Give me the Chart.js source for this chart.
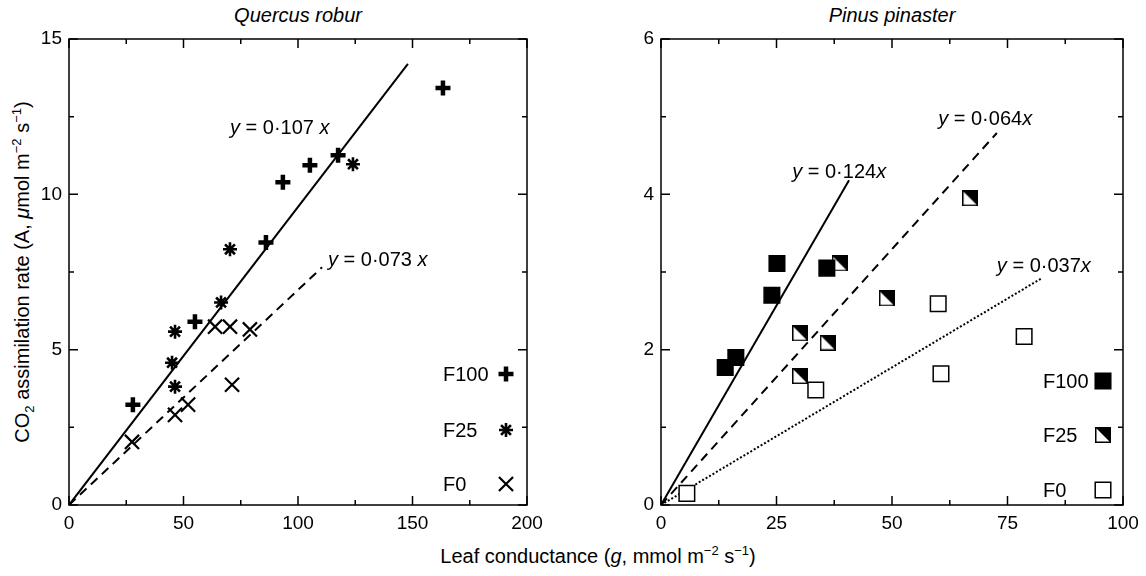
<!DOCTYPE html>
<html>
<head>
<meta charset="utf-8">
<script src="https://cdn.jsdelivr.net/npm/chart.js@4.4.0/dist/chart.umd.min.js"></script>
<style>
body{margin:0;background:#fff;width:1146px;height:576px;position:relative;overflow:hidden;
font-family:"Liberation Sans",Arial,sans-serif;color:#000}
canvas{position:absolute;top:0}
#cLeft{left:0}
#cRight{left:580px}
.title{position:absolute;top:4px;font-size:20px;font-style:italic;transform:translateX(-50%);white-space:nowrap}
.ytitle{position:absolute;left:22px;top:272px;font-size:20px;white-space:nowrap;transform:translate(-50%,-50%) rotate(-90deg)}
.xtitle{position:absolute;left:598px;top:545px;font-size:20px;white-space:nowrap;transform:translateX(-50%)}
sup,sub{font-size:13px;line-height:0}
</style>
</head>
<body>
<div class="title" style="left:298px">Quercus robur</div>
<div class="title" style="left:892px">Pinus pinaster</div>
<div class="ytitle">CO<sub>2</sub> assimilation rate (A, <i>μ</i>mol m<sup>−2</sup> s<sup>−1</sup>)</div>
<div class="xtitle">Leaf conductance (<i>g</i>, mmol m<sup>−2</sup> s<sup>−1</sup>)</div>
<canvas id="cLeft" width="560" height="576"></canvas>
<canvas id="cRight" width="566" height="576"></canvas>
<script>

/* ==========================================
   DATA - QUERCUS ROBUR
========================================== */

const oakXTicks = [0, 50, 100, 150, 200];
const oakYTicks = [0, 5, 10, 15];

const oakF100 = [
{x:27.9,y:3.23},{x:55.0,y:5.90},{x:86.0,y:8.45},{x:93.4,y:10.39},
{x:105.2,y:10.94},{x:117.5,y:11.26},{x:163.3,y:13.42}
];
const oakF25 = [
{x:45.0,y:4.58},{x:46.3,y:3.81},{x:46.3,y:5.58},{x:66.4,y:6.52},
{x:70.3,y:8.23},{x:124.0,y:10.97}
];
const oakF0 = [
{x:27.5,y:2.03},{x:46.3,y:2.90},{x:52.0,y:3.23},{x:71.2,y:3.87},
{x:63.8,y:5.74},{x:70.3,y:5.74},{x:79.0,y:5.65}
];

// fitted lines, end points as drawn
const oakFitHigh = [{x:0,y:0},{x:148,y:14.2}];
const oakFitLow = [{x:0,y:0},{x:110.5,y:7.65}];

const oakEquations = [
{x:70.3, y:11.94, text:" = 0·107 "},
{x:113.1, y:7.68, text:" = 0·073 "}
];

/* ==========================================
   DATA - PINUS PINASTER
========================================== */

const pineXTicks = [0, 25, 50, 75, 100];
const pineYTicks = [0, 2, 4, 6];

const pineF100 = [
{x:25.1,y:3.11},{x:24.0,y:2.70},{x:35.9,y:3.05},{x:16.2,y:1.90},{x:13.9,y:1.77}
];
const pineF25 = [
{x:38.7,y:3.11},{x:48.9,y:2.66},{x:30.1,y:2.21},{x:36.1,y:2.09},
{x:30.1,y:1.66},{x:66.9,y:3.95}
];
const pineF0 = [
{x:33.5,y:1.48},{x:5.6,y:0.15},{x:60.0,y:2.59},{x:60.6,y:1.69},{x:78.6,y:2.17}
];

const pineFitF100 = [{x:0,y:0},{x:40.7,y:4.18}];
const pineFitF25 = [{x:0,y:0},{x:72.7,y:4.79}];
const pineFitF0 = [{x:0,y:0},{x:82.4,y:2.92}];

const pineEquations = [
{x:28.4, y:4.21, text:" = 0·124"},
{x:60.0, y:4.89, text:" = 0·064"},
{x:72.7, y:3.00, text:" = 0·037"}
];

const legendNames = ["F100", "F25", "F0"];

const FONT = '"Liberation Sans", Arial, sans-serif';

/* ==========================================
   HALF FILLED SQUARE MARKER
========================================== */

function halfSquare(size){

const c = document.createElement("canvas");
c.width = size;
c.height = size;
const g = c.getContext("2d");

g.fillStyle = "#fff";
g.fillRect(0,0,size,size);

g.fillStyle = "#000";
g.beginPath();
g.moveTo(0,0);
g.lineTo(size,0);
g.lineTo(size,size);
g.closePath();
g.fill();

g.strokeStyle = "#000";
g.lineWidth = 1.5;
g.strokeRect(0.75,0.75,size-1.5,size-1.5);

return c;

}

const halfMarker = halfSquare(16);

/* ==========================================
   PLUGIN: FRAME, TICKS, EQUATIONS, LEGEND
========================================== */

function midpoints(arr){
const out = [];
for(let i=0;i<arr.length-1;i++) out.push((arr[i]+arr[i+1])/2);
return out;
}

const framePlugin = {

id:"frame",

afterDraw(chart, args, opts){

const ctx = chart.ctx;
const a = chart.chartArea;
const sx = chart.scales.x;
const sy = chart.scales.y;

ctx.save();
ctx.strokeStyle = "#000";
ctx.lineWidth = 1.5;
ctx.strokeRect(a.left, a.top, a.right-a.left, a.bottom-a.top);

function tick(v, len, axis){
ctx.beginPath();
if(axis==="x"){
const p = sx.getPixelForValue(v);
ctx.moveTo(p, a.bottom); ctx.lineTo(p, a.bottom-len);
ctx.moveTo(p, a.top); ctx.lineTo(p, a.top+len);
}else{
const p = sy.getPixelForValue(v);
ctx.moveTo(a.left, p); ctx.lineTo(a.left+len, p);
ctx.moveTo(a.right, p); ctx.lineTo(a.right-len, p);
}
ctx.stroke();
}

opts.xTicks.forEach(v=>tick(v,9,"x"));
midpoints(opts.xTicks).forEach(v=>tick(v,5,"x"));
opts.yTicks.forEach(v=>tick(v,9,"y"));
midpoints(opts.yTicks).forEach(v=>tick(v,5,"y"));

// equations
ctx.fillStyle = "#000";
ctx.textBaseline = "alphabetic";
ctx.textAlign = "left";
opts.equations.forEach(eq=>{
let px = sx.getPixelForValue(eq.x);
const py = sy.getPixelForValue(eq.y);
ctx.font = "italic 20px " + FONT;
ctx.fillText("y", px, py);
px += ctx.measureText("y").width;
ctx.font = "20px " + FONT;
ctx.fillText(eq.text, px, py);
px += ctx.measureText(eq.text).width;
ctx.font = "italic 20px " + FONT;
ctx.fillText("x", px, py);
});

// legend, text then marker
ctx.font = "20px " + FONT;
ctx.textBaseline = "middle";
opts.legend.rows.forEach((row,i)=>{
const ds = chart.data.datasets[i];
const y = a.bottom - row;
ctx.fillStyle = "#000";
ctx.fillText(legendNames[i], a.right - opts.legend.textOff, y + 1);
ctx.fillStyle = ds.backgroundColor;
ctx.strokeStyle = ds.borderColor;
ctx.lineWidth = ds.borderWidth;
if(Chart.helpers && Chart.helpers.drawPoint){
Chart.helpers.drawPoint(ctx,{
pointStyle:ds.pointStyle,
rotation:0,
radius:ds.pointRadius,
borderWidth:ds.borderWidth
}, a.right - opts.legend.markOff, y);
}
});

ctx.restore();

}

};

/* ==========================================
   SHARED CHART BUILDER
========================================== */

function axis(min, max, ticks, fit){
return {
type:"linear",
min:min,
max:max,
afterBuildTicks:s=>{ s.ticks = ticks.map(v=>({value:v})); },
afterFit:fit,
grid:{display:false, drawTicks:false},
border:{display:false},
ticks:{
color:"#000",
padding:7,
autoSkip:false,
maxRotation:0,
font:{family:FONT, size:19}
}
};
}

function fitLine(data, dash, width){
return {
type:"line",
data:data,
showLine:true,
pointRadius:0,
borderColor:"#000",
borderWidth:width,
borderDash:dash,
fill:false,
order:2
};
}

function points(data, style, radius, border, fillColor){
return {
data:data,
pointStyle:style,
pointRadius:radius,
pointHoverRadius:radius,
borderWidth:border,
pointBorderWidth:border,
borderColor:"#000",
backgroundColor:fillColor,
pointBackgroundColor:fillColor,
pointBorderColor:"#000",
order:1
};
}

/* ==========================================
   LEFT CHART - QUERCUS ROBUR
========================================== */

new Chart(document.getElementById("cLeft"),{

type:"scatter",

data:{
datasets:[
points(oakF100,"cross",7.5,4.5,"#000"),
points(oakF25,"star",7,2.6,"#000"),
points(oakF0,"crossRot",10,2.2,"#000"),
fitLine(oakFitHigh,[],2),
fitLine(oakFitLow,[9,6],2)
]
},

options:{
responsive:false,
animation:false,
events:[],
layout:{padding:{top:39,right:33,bottom:31,left:0}},
plugins:{
legend:{display:false},
tooltip:{enabled:false},
frame:{
xTicks:oakXTicks,
yTicks:oakYTicks,
equations:oakEquations,
legend:{rows:[131,75,21], textOff:84, markOff:21}
}
},
scales:{
x:axis(0,200,oakXTicks,s=>{s.height=40;}),
y:axis(0,15,oakYTicks,s=>{s.width=69;})
}
},

plugins:[framePlugin]

});

/* ==========================================
   RIGHT CHART - PINUS PINASTER
========================================== */

new Chart(document.getElementById("cRight"),{

type:"scatter",

data:{
datasets:[
points(pineF100,"rect",11,1.5,"#000"),
points(pineF25,halfMarker,8,1.5,"#000"),
points(pineF0,"rect",11,1.5,"#fff"),
fitLine(pineFitF100,[],2),
fitLine(pineFitF25,[9,6],2),
fitLine(pineFitF0,[2,2],2)
]
},

options:{
responsive:false,
animation:false,
events:[],
layout:{padding:{top:39,right:23,bottom:31,left:0}},
plugins:{
legend:{display:false},
tooltip:{enabled:false},
frame:{
xTicks:pineXTicks,
yTicks:pineYTicks,
equations:pineEquations,
legend:{rows:[124,70,15], textOff:80, markOff:20}
}
},
scales:{
x:axis(0,100,pineXTicks,s=>{s.height=40;}),
y:axis(0,6,pineYTicks,s=>{s.width=81;})
}
},

plugins:[framePlugin]

});

</script>
</body>
</html>
